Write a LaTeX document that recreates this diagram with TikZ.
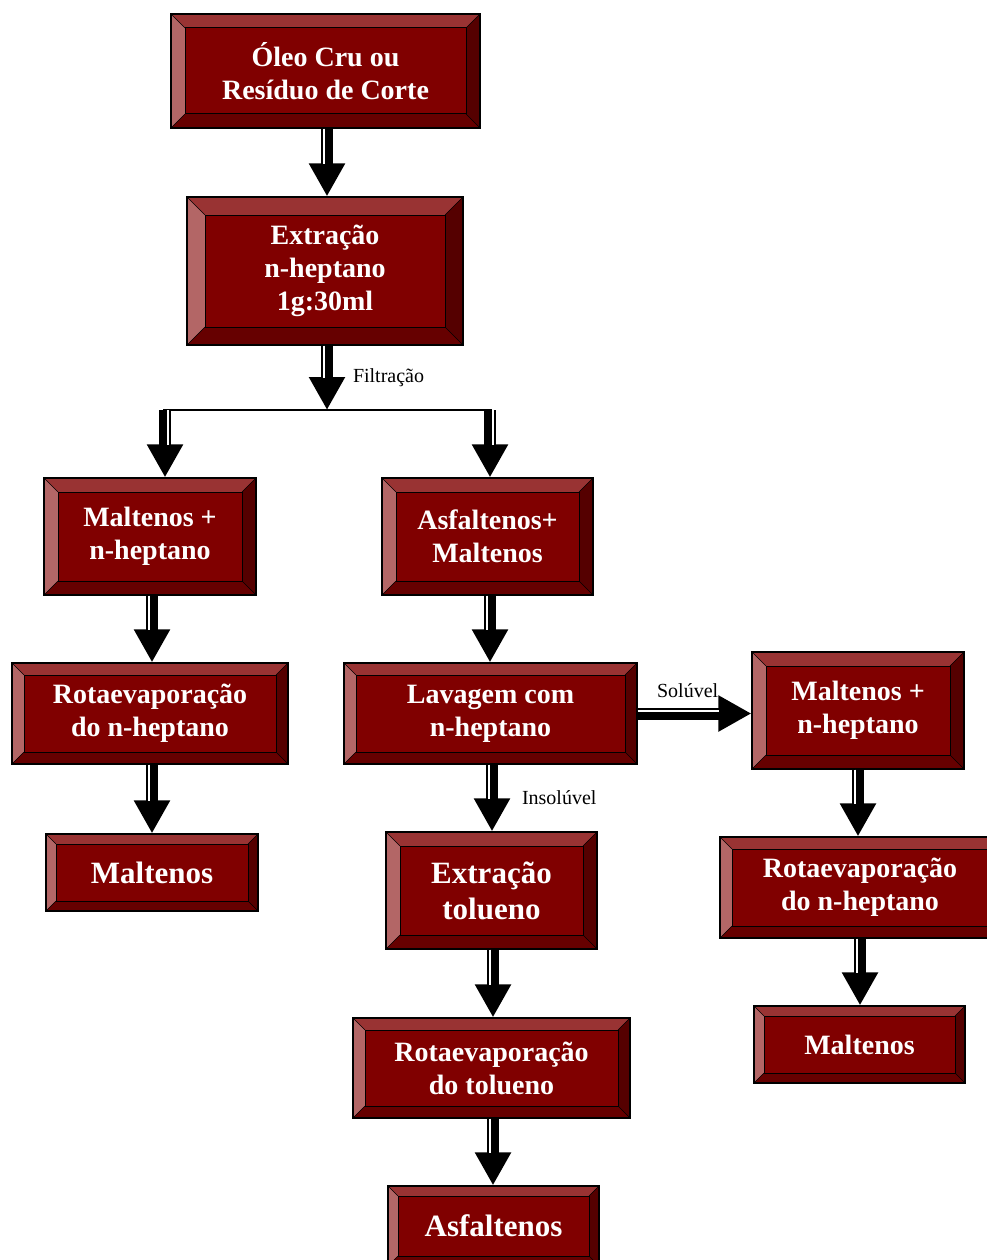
\documentclass[tikz,border=0pt]{standalone}
\usepackage{fontspec}
\setmainfont{Liberation Serif}
\usetikzlibrary{arrows.meta}

\definecolor{bvmid}{HTML}{800000}
\definecolor{bvtop}{HTML}{993333}
\definecolor{bvleft}{HTML}{B36666}
\definecolor{bvright}{HTML}{550000}
\definecolor{bvbot}{HTML}{660000}

% the four sloped faces of a bevelled box, #1 = width of the bevel
\newcommand\bevelfaces[1]{%
  \coordinate (nw) at (path picture bounding box.north west);
  \coordinate (ne) at (path picture bounding box.north east);
  \coordinate (se) at (path picture bounding box.south east);
  \coordinate (sw) at (path picture bounding box.south west);
  \fill[bvtop] (nw) -- (ne) -- ([shift={(-#1,-#1)}]ne) -- ([shift={(#1,-#1)}]nw) -- cycle;
  \fill[bvleft] (nw) -- ([shift={(#1,-#1)}]nw) -- ([shift={(#1,#1)}]sw) -- (sw) -- cycle;
  \fill[bvright] (ne) -- (se) -- ([shift={(-#1,#1)}]se) -- ([shift={(-#1,-#1)}]ne) -- cycle;
  \fill[bvbot] (sw) -- ([shift={(#1,#1)}]sw) -- ([shift={(-#1,#1)}]se) -- (se) -- cycle;
  \draw[line width=1pt] ([shift={(#1,-#1)}]nw) rectangle ([shift={(-#1,#1)}]se);
  \draw[line width=0.6pt] (nw) -- ++(#1,-#1) (ne) -- ++(-#1,-#1)
    (se) -- ++(-#1,#1) (sw) -- ++(#1,#1);
}

\newcommand\boxfont{\bfseries\fontsize{28}{33}\selectfont}
\newcommand\bigfont{\bfseries\fontsize{31}{36}\selectfont}

\tikzset{
  bevelbox/.style={draw=black, line width=1.2pt, fill=bvmid, text=white,
    align=center, inner sep=0pt, font=\boxfont,
    path picture={\bevelfaces{#1}}},
  bevelbox/.default=14,
  flow/.style={line width=12pt, -{Triangle[width=34pt,length=33pt]},
    postaction={draw=white, line width=2pt, -, shorten >=32pt,
      transform canvas={shift={(#1)}}}},
  flow/.default={-3,0},
  lbl/.style={font=\fontsize{20}{22}\selectfont, text=black, inner sep=0pt},
}

\begin{document}
\begin{tikzpicture}[x=1pt,y=1pt]
\useasboundingbox (0,0) rectangle (986,-1260);

% boxes
\node[bevelbox, minimum width=309pt, minimum height=114pt] (oleo) at (325.5,-71) {Óleo Cru ou\\Resíduo de Corte};
\node[bevelbox=18, minimum width=276pt, minimum height=148pt] (extr) at (325,-271) {Extração\\n-heptano\\1g:30ml};
\node[bevelbox, minimum width=212pt, minimum height=117pt] (malhep) at (150,-536.5) {Maltenos +\\n-heptano};
\node[bevelbox, minimum width=211pt, minimum height=117pt] (asfmal) at (487.5,-536.5) {Asfaltenos+\\Maltenos};
\node[bevelbox=12, minimum width=276pt, minimum height=101pt] (rotaL) at (150,-713.5) {Rotaevaporação\\do n-heptano};
\node[bevelbox=10, minimum width=212pt, minimum height=77pt, font=\bigfont] (maltL) at (152,-872.5) {Maltenos};
\node[bevelbox=12, minimum width=293pt, minimum height=101pt] (lavagem) at (490.5,-713.5) {Lavagem com\\n-heptano};
\node[bevelbox, minimum width=212pt, minimum height=117pt] (malhepR) at (858,-710.5) {Maltenos +\\n-heptano};
\node[bevelbox, minimum width=211pt, minimum height=117pt, font=\bigfont] (extol) at (491.5,-890.5) {Extração\\tolueno};
\node[bevelbox=12, minimum width=280pt, minimum height=101pt] (rotaR) at (860,-887.5) {Rotaevaporação\\do n-heptano};
\node[bevelbox=10, minimum width=211pt, minimum height=77pt] (maltR) at (859.5,-1044.5) {Maltenos};
\node[bevelbox=12, minimum width=277pt, minimum height=100pt] (rotaTol) at (491.5,-1068) {Rotaevaporação\\do tolueno};
\node[bevelbox=10, minimum width=211pt, minimum height=80pt, font=\bigfont] (asf) at (493.5,-1226) {Asfaltenos};

% split after filtration
\coordinate (split) at (327,-410);
\coordinate (brL) at (165,-410);
\coordinate (brR) at (490,-410);

% arrows
\draw[flow] (split |- oleo.south) -- (split |- extr.north);
\draw[flow] (split |- extr.south) -- (split) node[midway, right=20pt, lbl] {Filtração};
\draw[line width=1.5pt] ([xshift=-2pt]brL) -- ([xshift=2pt]brR);
\draw[flow={3,0}] (brL) -- (brL |- malhep.north);
\draw[flow={3,0}] (brR) -- (brR |- asfmal.north);
\draw[flow] ([xshift=2pt]malhep.south) -- ([xshift=2pt]malhep.south |- rotaL.north);
\draw[flow] ([xshift=2pt]rotaL.south) -- ([xshift=2pt]rotaL.south |- maltL.north);
\draw[flow] ([xshift=2.5pt]asfmal.south) -- ([xshift=2.5pt]asfmal.south |- lavagem.north);
\draw[flow] ([xshift=1.5pt]lavagem.south) -- ([xshift=1.5pt]lavagem.south |- extol.north)
  node[midway, right=24pt, lbl] {Insolúvel};
\draw[flow={0,3}] (lavagem.east) -- (lavagem.east -| malhepR.west)
  node[pos=0.44, above=10pt, lbl] {Solúvel};
\draw[flow] (malhepR.south) -- (malhepR.south |- rotaR.north);
\draw[flow] (rotaR.south) -- (rotaR.south |- maltR.north);
\draw[flow] ([xshift=1.5pt]extol.south) -- ([xshift=1.5pt]extol.south |- rotaTol.north);
\draw[flow] ([xshift=1.5pt]rotaTol.south) -- ([xshift=1.5pt]rotaTol.south |- asf.north);
\end{tikzpicture}
\end{document}
